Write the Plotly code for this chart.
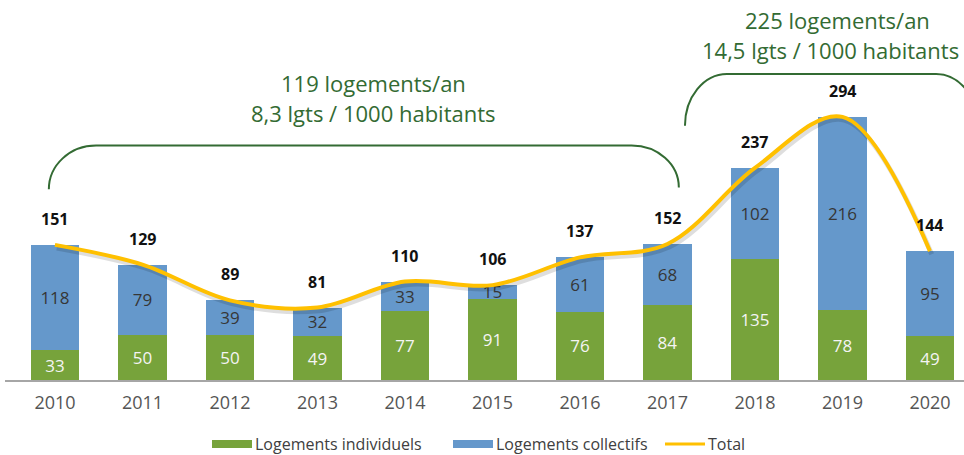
import plotly.graph_objects as go

# --- data -------------------------------------------------------------
years = ["2010", "2011", "2012", "2013", "2014", "2015",
         "2016", "2017", "2018", "2019", "2020"]
individuels = [33, 50, 50, 49, 77, 91, 76, 84, 135, 78, 49]
collectifs = [118, 79, 39, 32, 33, 15, 61, 68, 102, 216, 95]
totals = [151, 129, 89, 81, 110, 106, 137, 152, 237, 294, 144]

period_notes = [
    ("119 logements/an", "8,3 lgts / 1000 habitants"),
    ("225 logements/an", "14,5 lgts / 1000 habitants"),
]

# --- styling ----------------------------------------------------------
GREEN = "#77A33B"
BLUE = "#6598CB"
GOLD = "#FFC000"
DARK_GREEN = "#336B33"
FONT = "'Open Sans', Lato, sans-serif"

W, H = 964, 455
M_L, M_R, M_T, M_B = 5, 0, 0, 75
X_RANGE = [-0.571, 10.389]
Y_RANGE = [0, 424.6]

idx = list(range(len(years)))

fig = go.Figure()

fig.add_trace(go.Bar(
    x=idx, y=individuels, name="Logements individuels",
    marker=dict(color=GREEN, line=dict(width=0)),
    text=individuels, textposition="inside", insidetextanchor="middle",
    textangle=0, constraintext="none",
    textfont=dict(family=FONT, size=17, color="#F4F4F4"),
    width=0.55, showlegend=False, hoverinfo="skip",
))
fig.add_trace(go.Bar(
    x=idx, y=collectifs, name="Logements collectifs",
    marker=dict(color=BLUE, line=dict(width=0)),
    text=collectifs, textposition="inside", insidetextanchor="middle",
    textangle=0, constraintext="none",
    textfont=dict(family=FONT, size=17, color="#363636"),
    width=0.55, showlegend=False, hoverinfo="skip",
))

# soft drop shadow under the total curve
fig.add_trace(go.Scatter(
    x=[i + 0.02 for i in idx], y=[t - 3.5 for t in totals], mode="lines",
    line=dict(color="rgba(0,0,0,0.13)", width=5, shape="spline", smoothing=1),
    showlegend=False, hoverinfo="skip",
))
fig.add_trace(go.Scatter(
    x=idx, y=totals, mode="lines", name="Total",
    line=dict(color=GOLD, width=4, shape="spline", smoothing=1),
    showlegend=False, hoverinfo="skip",
))

# total labels above each stack
for i, t in zip(idx, totals):
    fig.add_annotation(
        x=i, y=t, text=f"<b>{t}</b>", showarrow=False,
        yanchor="bottom", yshift=13,
        font=dict(family=FONT, size=16, color="#111111"),
    )


# --- period brackets --------------------------------------------------
def bracket(x0, x1, y_low_left, y_low_right, y_top, rx):
    """Rounded bracket opening downwards, in data units."""
    k = 0.5523
    ryl = y_top - y_low_left
    ryr = y_top - y_low_right
    return (
        f"M {x0},{y_low_left} "
        f"C {x0},{y_low_left + k * ryl} {x0 + rx * (1 - k)},{y_top} {x0 + rx},{y_top} "
        f"L {x1 - rx},{y_top} "
        f"C {x1 - rx * (1 - k)},{y_top} {x1},{y_low_right + k * ryr} {x1},{y_low_right}"
    )


fig.add_shape(type="path", xref="x", yref="y",
              path=bracket(-0.07, 7.13, 213, 215, 262, 0.54),
              line=dict(color=DARK_GREEN, width=2))
fig.add_shape(type="path", xref="x", yref="y",
              path=bracket(7.2, 10.55, 284, 284, 342, 0.48),
              line=dict(color=DARK_GREEN, width=2))

# (x, anchor) per line of each note, then y of both lines
note_layout = [
    (((3.64, "center"), (3.64, "center")), (332, 298)),
    (((8.94, "center"), (10.35, "right")), (402, 369)),
]
for (l1, l2), (xs, ys) in zip(period_notes, note_layout):
    for txt, (xn, anchor), yy in zip((l1, l2), xs, ys):
        fig.add_annotation(x=xn, y=yy, text=txt, showarrow=False,
                           xanchor=anchor, yanchor="middle",
                           font=dict(family=FONT, size=22, color=DARK_GREEN))

# --- legend drawn below the axis ---------------------------------------
def px_x(px):
    return (px - M_L) / (W - M_L - M_R)


def px_y(py):
    plot_h = H - M_T - M_B
    return (plot_h + M_T - py) / plot_h


leg_y = 444
legend_items = [
    ("Logements individuels", GREEN, "bar", 212),
    ("Logements collectifs", BLUE, "bar", 453),
    ("Total", GOLD, "line", 665),
]
for label, color, kind, x0 in legend_items:
    if kind == "bar":
        fig.add_shape(type="rect", xref="paper", yref="paper",
                      x0=px_x(x0), x1=px_x(x0 + 40),
                      y0=px_y(leg_y + 4), y1=px_y(leg_y - 4),
                      fillcolor=color, line=dict(width=0))
    else:
        fig.add_shape(type="line", xref="paper", yref="paper",
                      x0=px_x(x0), x1=px_x(x0 + 40),
                      y0=px_y(leg_y), y1=px_y(leg_y),
                      line=dict(color=color, width=3))
    fig.add_annotation(xref="paper", yref="paper",
                       x=px_x(x0 + 41), y=px_y(leg_y),
                       text=label, showarrow=False,
                       xanchor="left", yanchor="middle",
                       font=dict(family=FONT, size=16, color="#404040"))

fig.update_layout(
    width=W, height=H,
    margin=dict(l=M_L, r=M_R, t=M_T, b=M_B),
    barmode="stack",
    plot_bgcolor="white", paper_bgcolor="white",
    uniformtext=dict(minsize=17, mode="show"),
    xaxis=dict(
        range=X_RANGE, tickmode="array", tickvals=idx, ticktext=years,
        showgrid=False, zeroline=False, showline=True,
        linecolor="#A6A6A6", linewidth=1.5, ticks="",
        ticklabelstandoff=6,
        tickfont=dict(family=FONT, size=18, color="#555555"),
        fixedrange=True,
    ),
    yaxis=dict(range=Y_RANGE, visible=False, fixedrange=True),
    showlegend=False,
)

fig.write_html("out.html")
